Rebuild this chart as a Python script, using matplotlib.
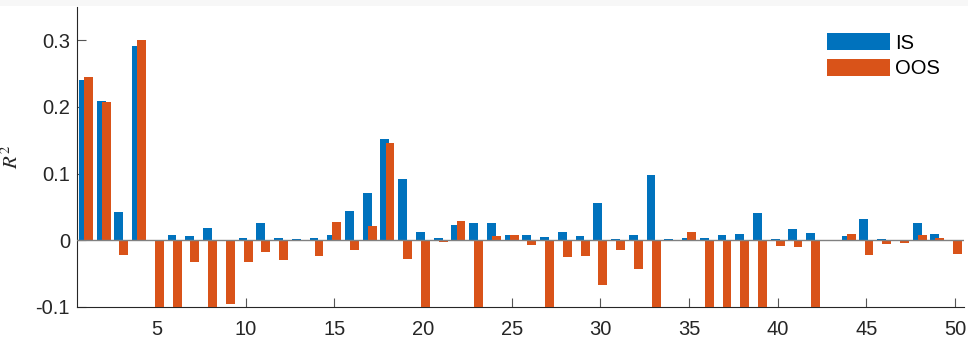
import matplotlib
matplotlib.use("Agg")
import matplotlib.pyplot as plt
import numpy as np
from matplotlib.patches import Rectangle

groups = list(range(1, 51))
is_r2 = [0.240, 0.2095, 0.043, 0.292, 0.001, 0.008, 0.007, 0.019, 0.001, 0.004,
         0.0265, 0.003, 0.0015, 0.004, 0.0085, 0.0435, 0.0715, 0.152, 0.0915, 0.013,
         0.003, 0.023, 0.0255, 0.0255, 0.0075, 0.008, 0.0045, 0.013, 0.0065, 0.0555,
         0.0015, 0.0085, 0.0985, 0.0025, 0.003, 0.003, 0.0075, 0.009, 0.0405, 0.002,
         0.0175, 0.0115, 0.001, 0.006, 0.0325, 0.002, 0.0005, 0.026, 0.010, 0.0005]
oos_r2 = [0.2455, 0.208, -0.022, 0.300, -0.20, -0.20, -0.032, -0.20, -0.095, -0.032,
          -0.018, -0.0295, -0.0005, -0.023, 0.028, -0.014, 0.022, 0.146, -0.0275, -0.20,
          -0.002, 0.0285, -0.20, 0.006, 0.0085, -0.0065, -0.20, -0.0245, -0.024, -0.0675,
          -0.015, -0.0435, -0.20, -0.0005, 0.012, -0.20, -0.20, -0.20, -0.20, -0.0085,
          -0.0095, -0.20, -0.0003, 0.009, -0.0215, -0.0055, -0.0045, 0.008, 0.003, -0.020]
series_names = ["IS", "OOS"]
xticks = [5, 10, 15, 20, 25, 30, 35, 40, 45, 50]
yticks = [-0.1, 0, 0.1, 0.2, 0.3]
ytick_labels = ["-0.1", "0", "0.1", "0.2", "0.3"]

plt.rcParams['font.family'] = ['Liberation Sans', 'DejaVu Sans']
plt.rcParams['mathtext.fontset'] = 'stix'

fig = plt.figure(figsize=(9.68, 3.39), dpi=100)
fig.patches.append(Rectangle((0, 1 - 6/339), 1, 6/339, transform=fig.transFigure,
                             facecolor='#f7f7f7', edgecolor='none', zorder=0))
ax = fig.add_axes([77/968, 1 - 307/339, (964 - 77)/968, 300/339])

x = np.array(groups)
off = 0.143
w = 0.5
ax.bar(x - off, is_r2, width=w, color='#0072BD', label=series_names[0], zorder=2)
ax.bar(x + off, oos_r2, width=w, color='#D95319', label=series_names[1], zorder=3)
ax.axhline(0, color='#808080', lw=1.0, zorder=4)

ax.set_xlim(0.5, 50.5)
ax.set_ylim(-0.1, 0.35)
ax.set_xticks(xticks)
ax.set_yticks(yticks)
ax.set_yticklabels(ytick_labels)
for s in ['top', 'right']:
    ax.spines[s].set_visible(False)
for s in ['left', 'bottom']:
    ax.spines[s].set_color('#262626')
    ax.spines[s].set_linewidth(0.8)
ax.tick_params(direction='in', length=6.5, width=0.8, color='#555555',
               labelcolor='#262626', labelsize=14.5)
ax.tick_params(axis='x', pad=9.5)
ax.tick_params(axis='y', pad=5)
ax.set_ylabel(r'$R^2$', fontsize=15, color='#262626')
ax.yaxis.set_label_coords(-0.062, 0.5)

leg = ax.legend(loc='upper left', bbox_to_anchor=(827/968, 1 - 33/339),
                bbox_transform=fig.transFigure, frameon=False, borderpad=0,
                borderaxespad=0, fontsize=14.5, handlelength=3.15, handleheight=0.95,
                handletextpad=0.25, labelspacing=0.3)
ax.set_facecolor('white')
fig.savefig('out.png', dpi=100, facecolor='white')
